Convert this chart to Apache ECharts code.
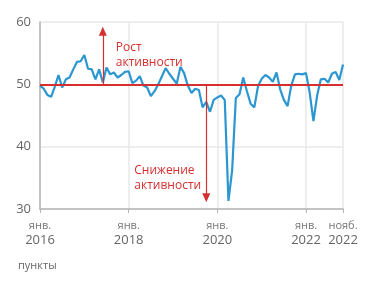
<!DOCTYPE html>
<html>
<head>
<meta charset="utf-8">
<script src="https://cdn.jsdelivr.net/npm/echarts@6/dist/echarts.min.js"></script>
<style>html,body{margin:0;padding:0;background:#fff}#c{width:371px;height:288px}</style>
</head>
<body>
<div id="c"></div>
<script>
var years = ['2016','2017','2018','2019','2020','2021','2022'];
var monthNames = ['янв.','февр.','март','апр.','май','июнь','июль','авг.','сент.','окт.','нояб.','дек.'];
var v2016 = [49.8,49.3,48.3,48.0,49.6,51.5,49.5,50.8,51.1,52.4,53.6,53.7];
var v2017 = [54.7,52.5,52.4,50.8,52.4,50.3,52.7,51.6,51.9,51.1,51.5,52.0];
var v2018 = [52.1,50.2,50.6,51.3,49.8,49.5,48.1,48.9,50.0,51.3,52.6,51.7];
var v2019 = [50.9,50.1,52.8,51.8,49.8,48.6,49.3,49.1,46.3,47.2,45.6,47.5];
var v2020 = [47.9,48.2,47.5,31.3,36.2,47.8,48.4,51.1,48.9,46.9,46.3,49.7];
var v2021 = [50.9,51.5,51.1,50.4,51.9,49.2,47.5,46.5,49.8,51.6,51.7,51.6];
var v2022 = [51.8,48.6,44.1,48.2,50.8,50.9,50.3,51.7,52.0,50.7,53.2];
var tickIndex = [0,24,48,72,82];
var tickMonth = ['янв.','янв.','янв.','янв.','нояб.'];
var tickYear = ['2016','2018','2020','2022','2022'];
var threshold = 50;
var upArrow = {cat: 'июнь 2017', from: 50, to: 58.5, textAt: 54.7, text: 'Рост\nактивности'};
var downArrow = {cat: 'окт. 2019', from: 50, to: 31.8, textAt: 35.0, text: 'Снижение\nактивности'};
var unitLabel = 'пункты';

var values = [].concat(v2016, v2017, v2018, v2019, v2020, v2021, v2022);
var categories = [];
years.forEach(function (y) {
  monthNames.forEach(function (m) { categories.push(m + ' ' + y); });
});
categories = categories.slice(0, values.length);

function isTick(i) { return tickIndex.indexOf(i) >= 0; }
var red = '#d62f2f';
var font = 'Open Sans';

var chart = echarts.init(document.getElementById('c'));
chart.setOption({
  animation: false,
  textStyle: {fontFamily: font},
  grid: {left: 40, right: 28, top: 22, bottom: 79},
  xAxis: {
    type: 'category',
    data: categories,
    boundaryGap: false,
    axisLine: {lineStyle: {color: '#b5b5b5', width: 1.5}},
    axisTick: {show: true, interval: function (i) { return isTick(i); }, length: 4, lineStyle: {color: '#b5b5b5'}},
    splitLine: {show: true, interval: function (i) { return isTick(i); }, lineStyle: {color: '#e8e8e8', width: 1.5}},
    axisLabel: {
      interval: function (i) { return isTick(i); },
      margin: 10,
      formatter: function (val, i) {
        var k = tickIndex.indexOf(i);
        if (k < 0) return '';
        return '{m|' + tickMonth[k] + '}\n{y|' + tickYear[k] + '}';
      },
      rich: {
        m: {fontSize: 11, lineHeight: 14, color: '#777', fontFamily: font},
        y: {fontSize: 13, lineHeight: 15, color: '#666', fontFamily: font}
      }
    }
  },
  yAxis: {
    type: 'value',
    min: 30, max: 60, interval: 10,
    axisLine: {show: true, lineStyle: {color: '#b5b5b5', width: 1.5}},
    axisTick: {show: false},
    splitLine: {lineStyle: {color: '#e8e8e8', width: 1.5}},
    axisLabel: {fontSize: 13, color: '#666', margin: 9, fontFamily: font}
  },
  series: [{
    type: 'line',
    data: values,
    symbol: 'none',
    lineStyle: {color: '#2c96d0', width: 2.2},
    z: 3,
    markLine: {
      silent: true,
      symbol: 'none',
      animation: false,
      label: {show: false},
      data: [{yAxis: threshold, lineStyle: {color: red, width: 2, type: 'solid'}}]
    }
  }, {
    type: 'line',
    data: [],
    z: 4,
    markLine: {
      silent: true,
      animation: false,
      symbol: ['none', 'triangle'],
      symbolSize: [8, 9],
      label: {show: false},
      lineStyle: {color: red, width: 1.2, type: 'solid'},
      data: [
        [{coord: [upArrow.cat, upArrow.from]}, {coord: [upArrow.cat, upArrow.to]}],
        [{coord: [downArrow.cat, downArrow.from]}, {coord: [downArrow.cat, downArrow.to]}]
      ]
    },
    markPoint: {
      silent: true,
      animation: false,
      symbol: 'circle',
      symbolSize: 0,
      data: [
        {coord: [upArrow.cat, upArrow.textAt], label: {show: true, position: 'right', distance: 13, formatter: upArrow.text, color: red, fontSize: 12, lineHeight: 15, align: 'left', fontFamily: font}},
        {coord: [downArrow.cat, downArrow.textAt], label: {show: true, position: 'left', distance: 0, formatter: downArrow.text, color: red, fontSize: 12, lineHeight: 15, align: 'left', fontFamily: font, offset: [-72, 0]}}
      ]
    }
  }],
  graphic: [{
    type: 'text', left: 18, top: 260,
    style: {text: unitLabel, fontSize: 11, fill: '#666', fontFamily: font}
  }]
});
</script>
</body>
</html>
